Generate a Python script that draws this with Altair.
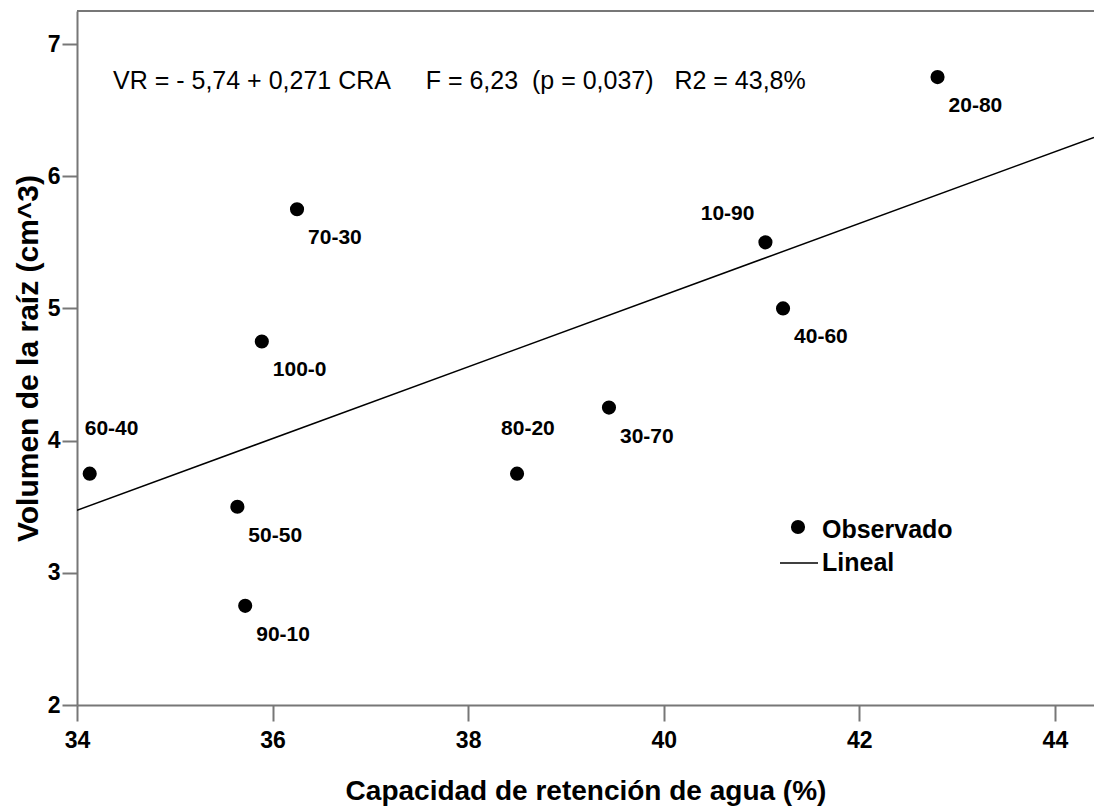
import altair as alt
import pandas as pd

# ---- data ----
labels = ["60-40", "50-50", "90-10", "100-0", "70-30", "80-20", "30-70", "10-90", "40-60", "20-80"]
cra = [34.13, 35.64, 35.72, 35.89, 36.25, 38.50, 39.44, 41.04, 41.22, 42.80]
vr = [3.75, 3.50, 2.75, 4.75, 5.75, 3.75, 4.25, 5.50, 5.00, 6.75]
x_ticks = [34, 36, 38, 40, 42, 44]
y_ticks = [2, 3, 4, 5, 6, 7]
x_domain = [34, 44.4]
y_domain = [2, 7.25]
x_title = "Capacidad de retención de agua (%)"
y_title = "Volumen de la raíz (cm^3)"
NB = "\u00a0"
equation = "VR = - 5,74 + 0,271 CRA" + NB * 5 + "F = 6,23" + NB * 2 + "(p = 0,037)" + NB * 3 + "R2 = 43,8%"
legend_labels = ["Observado", "Lineal"]

df = pd.DataFrame({"label": labels, "cra": cra, "vr": vr})

W, H = 1017, 694
FONT = "Liberation Sans"
AXIS_GRAY = "#777777"

xs = alt.Scale(domain=x_domain, nice=False, zero=False)
ys = alt.Scale(domain=y_domain, nice=False, zero=False)

x_enc = alt.X("cra:Q", scale=xs, axis=alt.Axis(
    values=x_ticks, format="d", title=x_title, grid=False, domainColor=AXIS_GRAY, domainWidth=2,
    tickColor=AXIS_GRAY, tickWidth=2, tickSize=16, labelPadding=8,
    labelFont=FONT, labelFontSize=23, labelFontWeight="bold", labelColor="black",
    titleFont=FONT, titleFontSize=28, titleFontWeight="bold", titleColor="black",
    titlePadding=25, labelFlush=False))
y_enc = alt.Y("vr:Q", scale=ys, axis=alt.Axis(
    values=y_ticks, format="d", title=y_title, grid=False, domainColor=AXIS_GRAY, domainWidth=2,
    tickColor=AXIS_GRAY, tickWidth=2, tickSize=15, labelPadding=2,
    labelFont=FONT, labelFontSize=23, labelFontWeight="bold", labelColor="black",
    titleFont=FONT, titleFontSize=30, titleFontWeight="bold", titleColor="black",
    titlePadding=4, labelFlush=False))

base = alt.Chart(df)

points = base.mark_circle(size=200, color="black", opacity=1).encode(x=x_enc, y=y_enc)

xq = alt.X("cra:Q", scale=xs)
yq = alt.Y("vr:Q", scale=ys)

fit = base.transform_regression("cra", "vr", extent=x_domain).mark_line(
    color="black", strokeWidth=1.5, clip=True).encode(x=xq, y=yq)

lab_font = dict(font=FONT, fontSize=21, fontWeight="bold", color="black", baseline="middle")
below_right = base.transform_filter(
    alt.FieldOneOfPredicate(field="label", oneOf=["50-50", "90-10", "100-0", "70-30", "30-70", "40-60", "20-80"])
).mark_text(align="left", dx=11, dy=29, **lab_font).encode(x=xq, y=yq, text="label:N")
lab_6040 = base.transform_filter(alt.datum.label == "60-40").mark_text(
    align="left", dx=-5, dy=-45, **lab_font).encode(x=xq, y=yq, text="label:N")
lab_8020 = base.transform_filter(alt.datum.label == "80-20").mark_text(
    align="left", dx=-16, dy=-45, **lab_font).encode(x=xq, y=yq, text="label:N")
lab_1090 = base.transform_filter(alt.datum.label == "10-90").mark_text(
    align="right", dx=-11, dy=-28, **lab_font).encode(x=xq, y=yq, text="label:N")

eq = alt.Chart(pd.DataFrame({"t": [equation]})).mark_text(
    align="left", baseline="middle", font=FONT, fontSize=25, color="black"
).encode(x=alt.value(36), y=alt.value(70), text="t:N")

leg_df = pd.DataFrame({"t": legend_labels})
leg_font = dict(align="left", baseline="middle", font=FONT, fontSize=25, fontWeight="bold", color="black")
leg_text1 = alt.Chart(leg_df).transform_filter(alt.datum.t == "Observado").mark_text(**leg_font).encode(
    x=alt.value(745), y=alt.value(519), text="t:N")
leg_text2 = alt.Chart(leg_df).transform_filter(alt.datum.t == "Lineal").mark_text(**leg_font).encode(
    x=alt.value(745), y=alt.value(552), text="t:N")
leg_dot = alt.Chart(leg_df).transform_filter(alt.datum.t == "Observado").mark_circle(
    size=200, color="black", opacity=1).encode(x=alt.value(721), y=alt.value(516))
leg_line = alt.Chart(leg_df).transform_filter(alt.datum.t == "Lineal").mark_rule(
    color="black", strokeWidth=1.5).encode(x=alt.value(703), x2=alt.value(741), y=alt.value(552))

top_border = alt.Chart(leg_df).transform_filter(alt.datum.t == "Lineal").mark_rule(
    color=AXIS_GRAY, strokeWidth=2).encode(x=alt.value(0), x2=alt.value(W), y=alt.value(0))

chart = alt.layer(
    points, top_border, fit, below_right, lab_6040, lab_8020, lab_1090, eq,
    leg_text1, leg_text2, leg_dot, leg_line
).properties(
    width=W, height=H,
    autosize=alt.AutoSizeParams(type="none"),
    padding={"left": 77, "top": 11, "right": 0, "bottom": 104},
    background="white",
).configure_view(stroke=None).configure_axis(grid=False)

chart.save("out.html", embed_options={"renderer": "svg", "actions": False})
